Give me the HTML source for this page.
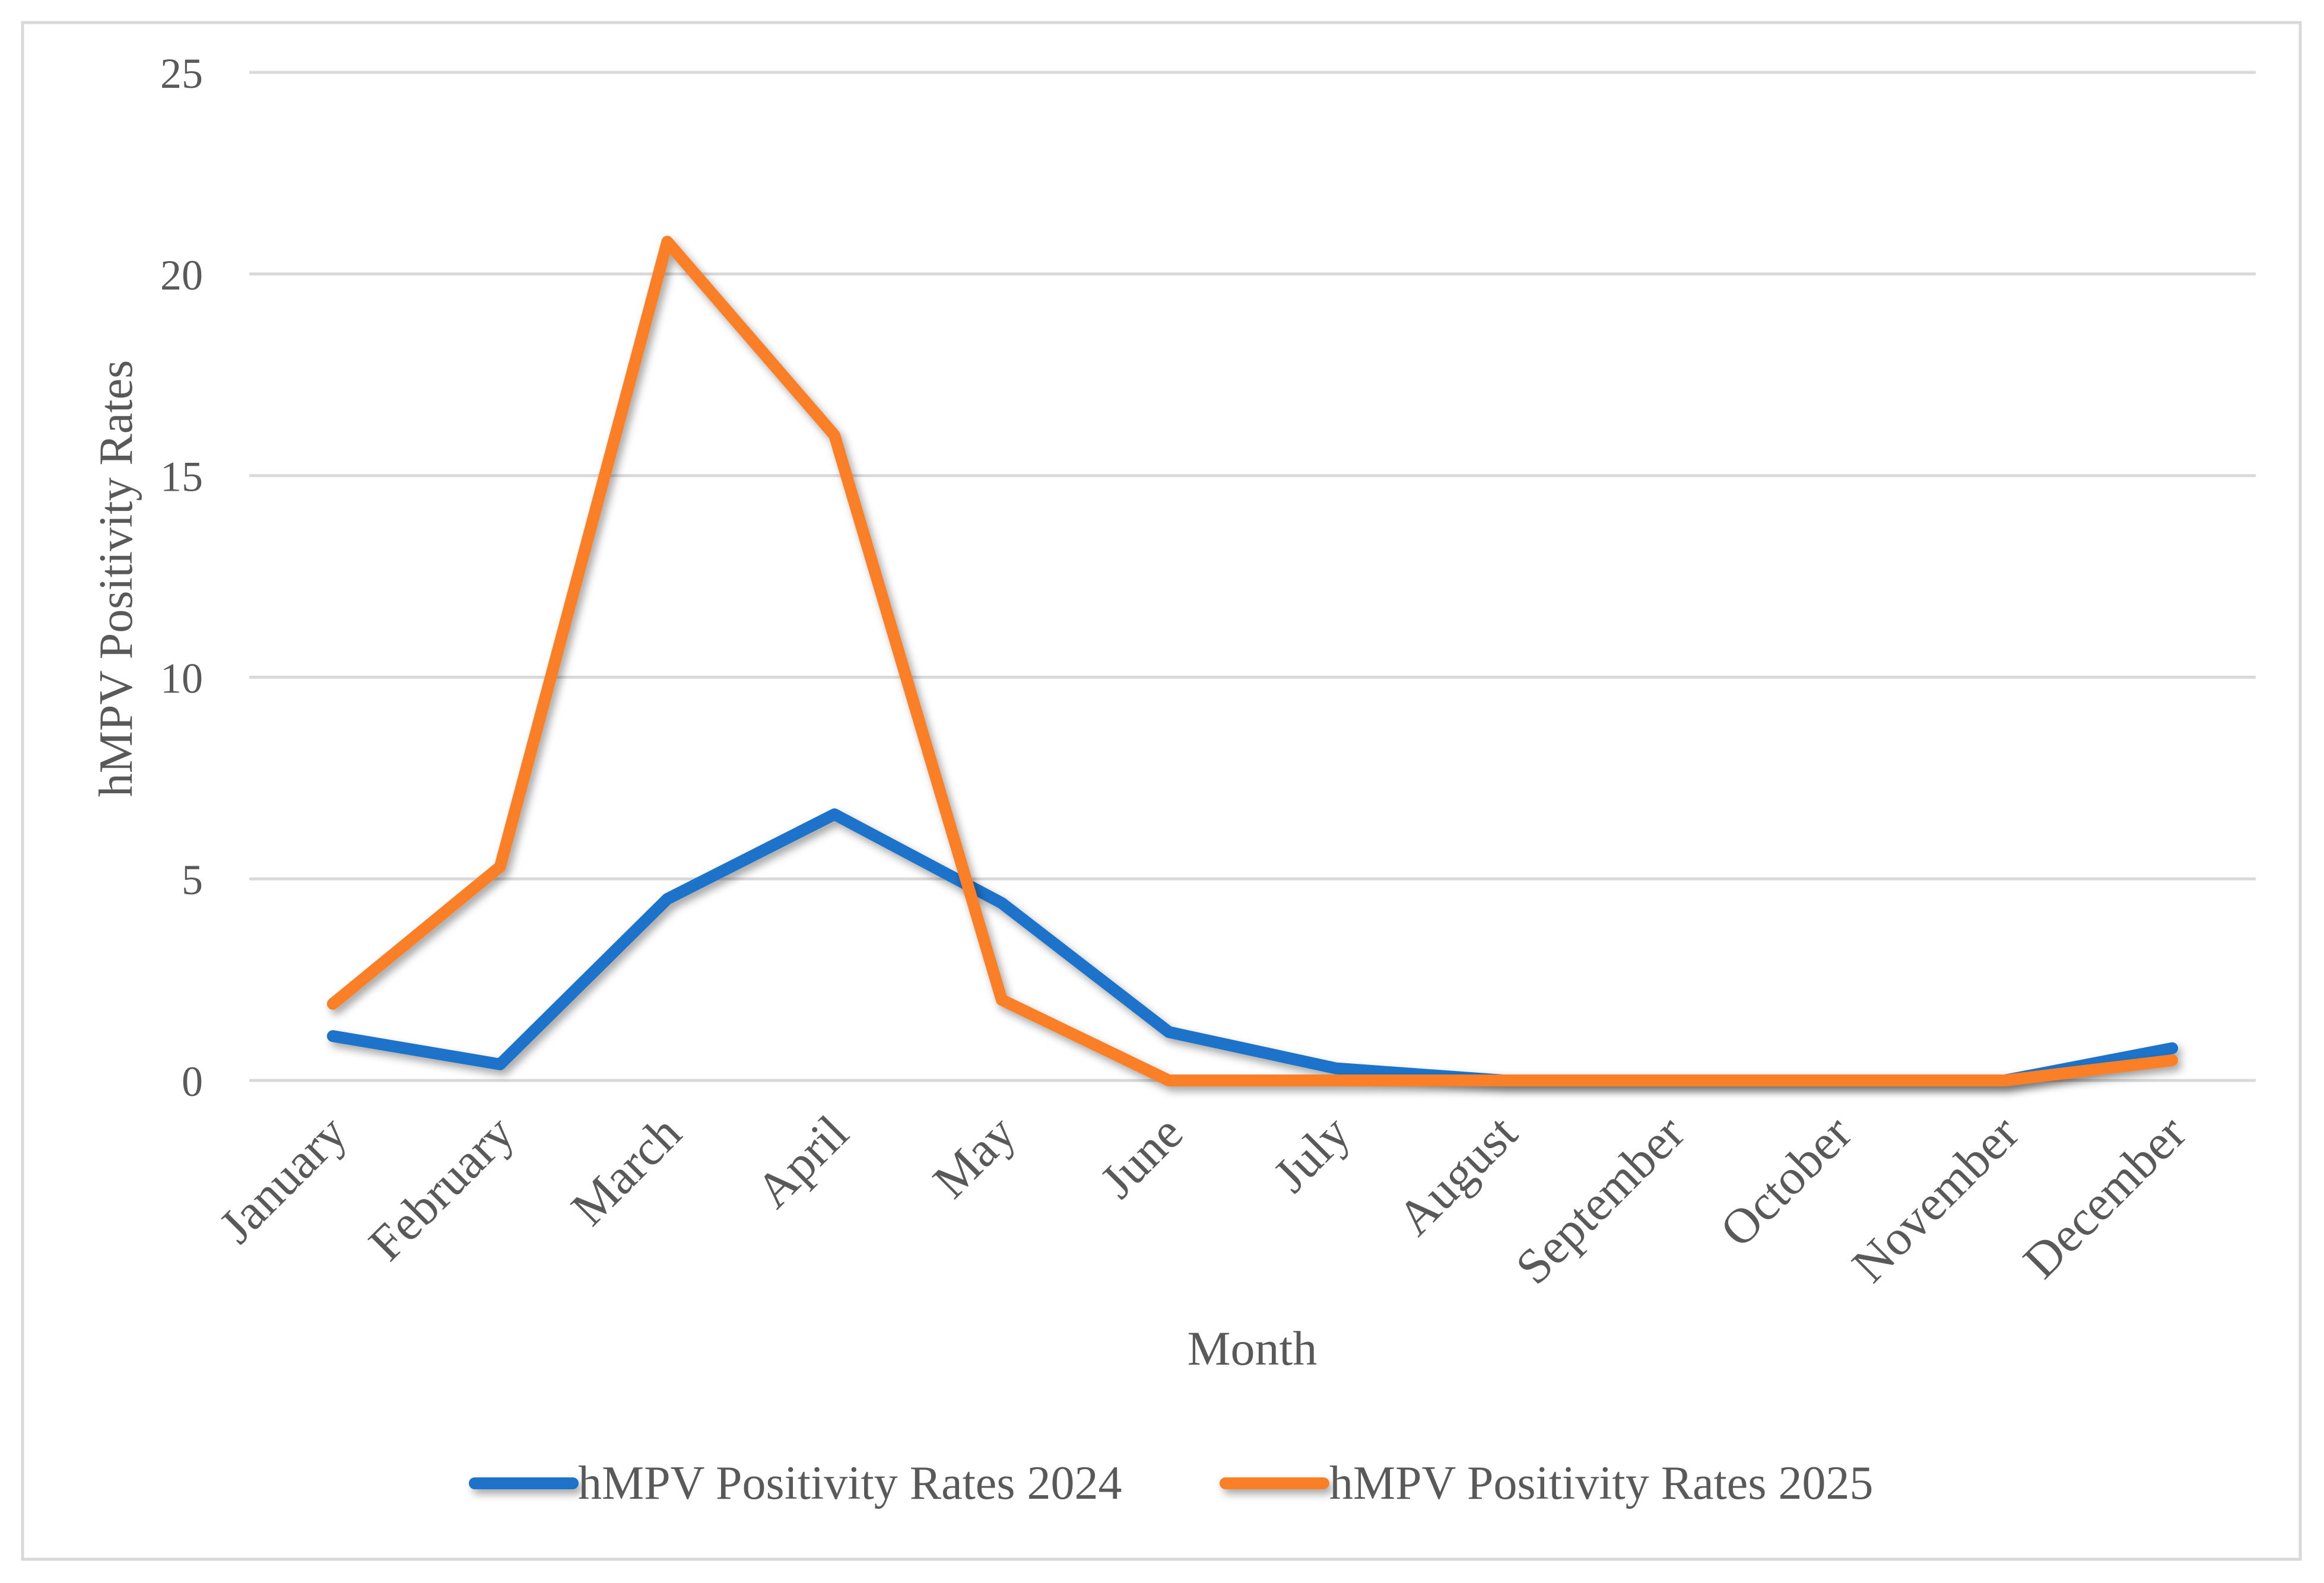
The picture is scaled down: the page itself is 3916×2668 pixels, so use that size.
<!DOCTYPE html>
<html><head><meta charset="utf-8"><style>
html,body{margin:0;padding:0;background:#fff}
svg{display:block}
text{font-family:"Liberation Serif",serif;fill:#595959}
</style></head><body>
<svg id="chart" width="3916" height="2668" viewBox="0 0 3916 2668">
<defs><filter id="sh" filterUnits="userSpaceOnUse" x="0" y="0" width="3916" height="2668"><feDropShadow dx="6" dy="8" stdDeviation="7" flood-color="#000" flood-opacity="0.35"/></filter></defs>
<rect x="38" y="38" width="3838" height="2590" fill="#fff" stroke="#d9d9d9" stroke-width="5"/>
<g id="grid"></g><g id="yticks"></g><g id="xticks"></g><g id="series"></g>
<text x="0" y="0" transform="translate(222,975) rotate(-90)" text-anchor="middle" font-size="80">hMPV Positivity Rates</text>
<text x="2110" y="2300" text-anchor="middle" font-size="82">Month</text>
<g>
<g>
<line x1="800" y1="2500" x2="965" y2="2500" stroke="#1a73c9" stroke-width="20" stroke-linecap="round" filter="url(#sh)"/>
<text x="974" y="2526" font-size="80">hMPV Positivity Rates 2024</text></g>
<g>
<line x1="2065" y1="2500" x2="2230" y2="2500" stroke="#fa7f25" stroke-width="20" stroke-linecap="round" filter="url(#sh)"/>
<text x="2240" y="2526" font-size="80">hMPV Positivity Rates 2025</text></g>
</g>
</svg>
<script>
const categories=["January","February","March","April","May","June","July","August","September","October","November","December"];
const rates2024=[1.1,0.4,4.5,6.6,4.4,1.2,0.3,0,0,0,0,0.8];
const rates2025=[1.9,5.3,20.8,16.0,2.0,0,0,0,0,0,0,0.5];
const yTicks=[0,5,10,15,20,25];
const NS="http://www.w3.org/2000/svg";
const x0=420,x1=3801,yBase=1821,yTop=122,yMax=25;
const step=(x1-x0)/categories.length;
function xs(i){return x0+step*(i+0.5);}
function ys(v){return yBase-(v/yMax)*(yBase-yTop);}
function mk(t,a,p){const e=document.createElementNS(NS,t);for(const k in a)e.setAttribute(k,a[k]);p.appendChild(e);return e;}
const g=document.getElementById('grid'),yt=document.getElementById('yticks'),xt=document.getElementById('xticks'),sg=document.getElementById('series');
yTicks.forEach(v=>{
 const l=mk('line',{x1:x0,x2:x1,y1:ys(v),y2:ys(v),stroke:'#d9d9d9','stroke-width':5},g);
 
 
 const t=mk('text',{x:342,y:ys(v)+26,'text-anchor':'end','font-size':72,fill:'#7f7f7f'},yt);
 t.textContent=v;
 
 
});
categories.forEach((c,i)=>{
 const x=xs(i)+28,y=1915;
 const t=mk('text',{x:x,y:y,'text-anchor':'end','font-size':84,transform:`rotate(-45 ${x} ${y})`},xt);
 t.textContent=c;
 
 
});
function line(vals,color,name){
 const p=mk('polyline',{points:vals.map((v,i)=>xs(i)+','+ys(v)).join(' '),fill:'none',stroke:color,'stroke-width':20,'stroke-linejoin':'round','stroke-linecap':'round',filter:'url(#sh)'},sg);
 
 
}
line(rates2024,'#1a73c9','series-2024-line');
line(rates2025,'#fa7f25','series-2025-line');
</script>
</body></html>
